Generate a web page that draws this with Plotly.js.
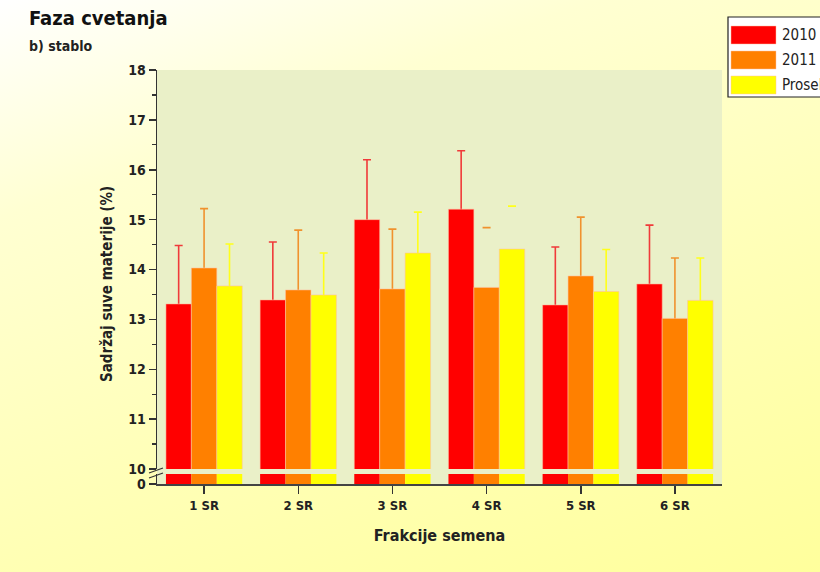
<!DOCTYPE html>
<html>
<head>
<meta charset="utf-8">
<script src="https://cdn.plot.ly/plotly-3.0.1.min.js"></script>
<style>
html,body{margin:0;padding:0;}
body{width:820px;height:572px;background:linear-gradient(160deg,#ffffff 0%,#ffffd2 25%,#ffffb4 65%,#ffff9c 100%);}
#chart{width:820px;height:572px;}
</style>
</head>
<body>
<div id="chart"></div>
<script>
const categories = ['1 SR','2 SR','3 SR','4 SR','5 SR','6 SR'];
const seriesNames = ['2010','2011','Prosek'];
const values2010 = [13.31, 13.39, 15.00, 15.21, 13.29, 13.71];
const values2011 = [14.03, 13.59, 13.61, 13.64, 13.87, 13.02];
const valuesProsek = [13.67, 13.49, 14.33, 14.41, 13.56, 13.38];
const err2010 = [1.17, 1.16, 1.20, 1.17, 1.16, 1.18];
const err2011 = [1.19, 1.20, 1.20, 1.20, 1.18, 1.21];
const errProsek = [0.84, 0.84, 0.82, 0.86, 0.84, 0.85];
// error bars drawn as cap only (no vertical stem) in the original
const capOnly2010 = [false, false, false, false, false, false];
const capOnly2011 = [false, false, false, true, false, false];
const capOnlyProsek = [false, false, false, true, false, false];
const yTicks = [10, 11, 12, 13, 14, 15, 16, 17, 18];

const colors = ['#ff0000', '#ff8000', '#ffff00'];
const errColors = ['#f03a3a', '#f0922e', '#ffff1a'];
const FONT = 'Liberation Sans Narrow, DejaVu Sans Condensed, Open Sans, sans-serif';

const allVals = [values2010, values2011, valuesProsek];
const allErr = [err2010, err2011, errProsek];
const allCap = [capOnly2010, capOnly2011, capOnlyProsek];

const traces = [];
// error-bar carriers first, so the real bars (drawn later) hide the lower end of each whisker
for (let s = 0; s < 3; s++) {
  const capY = allVals[s].map((v, i) => v + allErr[s][i]);
  traces.push({
    type: 'bar', x: categories, y: capY, xaxis: 'x', yaxis: 'y', offsetgroup: 'g' + s,
    marker: {color: 'rgba(0,0,0,0)', line: {width: 0}},
    error_y: {type: 'data', symmetric: false,
      array: capY.map(() => 0),
      arrayminus: allErr[s].map((e, i) => allCap[s][i] ? 0 : e + 0.15),
      visible: true, color: errColors[s], thickness: 1.6, width: 4},
    showlegend: false, hoverinfo: 'skip'
  });
}
for (let s = 0; s < 3; s++) {
  traces.push({
    type: 'bar', x: categories, y: allVals[s], name: seriesNames[s],
    xaxis: 'x', yaxis: 'y', offsetgroup: 'g' + s,
    marker: {color: colors[s], line: {color: 'rgba(255,190,160,0.7)', width: 0.8}},
    showlegend: false, hoverinfo: 'x+y'
  });
  traces.push({
    type: 'bar', x: categories, y: allVals[s], name: seriesNames[s],
    xaxis: 'x', yaxis: 'y2', offsetgroup: 'g' + s,
    marker: {color: colors[s], line: {width: 0}},
    showlegend: false, hoverinfo: 'skip'
  });
}

const H = 572, W = 820;
const mL = 157, mR = 98, mT = 70, mB = 88;
const plotH = H - mT - mB;
const upperBottom = (484 - 469) / plotH;
const lowerTop = (484 - 474) / plotH;

const shapes = [
  {type: 'rect', xref: 'paper', yref: 'paper', x0: 0, x1: 1, y0: 0, y1: 1, fillcolor: '#eaf0c8', line: {width: 0}, layer: 'below'},
  {type: 'line', xref: 'paper', yref: 'paper', xsizemode: 'pixel', ysizemode: 'pixel', xanchor: 0, yanchor: upperBottom, x0: -8, x1: 6, y0: -4, y1: 1, line: {color: '#333', width: 1.3}},
  {type: 'line', xref: 'paper', yref: 'paper', xsizemode: 'pixel', ysizemode: 'pixel', xanchor: 0, yanchor: lowerTop, x0: -8, x1: 6, y0: -4, y1: 1, line: {color: '#333', width: 1.3}}
];

// custom legend (large swatches, box running off the right edge as in the original)
const legX = 728, legTop = 17;
shapes.push({type: 'rect', xref: 'paper', yref: 'paper', xsizemode: 'pixel', ysizemode: 'pixel',
  xanchor: (legX - mL) / (W - mL - mR), yanchor: 1 + (mT - legTop) / plotH,
  x0: 0, x1: 120, y0: 0, y1: -80, fillcolor: '#ffffff', line: {color: '#222', width: 1.2}});
const annotations = [];
seriesNames.forEach((n, i) => {
  const top = 26 + i * 25;
  shapes.push({type: 'rect', xref: 'paper', yref: 'paper', xsizemode: 'pixel', ysizemode: 'pixel',
    xanchor: (731 - mL) / (W - mL - mR), yanchor: 1 + (mT - top) / plotH,
    x0: 0, x1: 45, y0: 0, y1: -18, fillcolor: colors[i], line: {color: 'rgba(255,190,160,0.6)', width: 0.8}});
  annotations.push({xref: 'paper', yref: 'paper', x: (780 - mL) / (W - mL - mR), y: 1 + (mT - top - 9) / plotH,
    xanchor: 'left', yanchor: 'middle', text: n, showarrow: false, font: {family: FONT, size: 15, color: '#222'}});
});
annotations.push({xref: 'paper', yref: 'paper', x: (27 - mL) / (W - mL - mR), y: 1 + (mT - 18) / plotH,
  xanchor: 'left', yanchor: 'middle', text: '<b>Faza cvetanja</b>', showarrow: false, font: {family: FONT, size: 20, color: '#111'}});
annotations.push({xref: 'paper', yref: 'paper', x: (27 - mL) / (W - mL - mR), y: 1 + (mT - 46) / plotH,
  xanchor: 'left', yanchor: 'middle', text: '<b>b) stablo</b>', showarrow: false, font: {family: FONT, size: 14, color: '#222'}});
annotations.push({xref: 'paper', yref: 'paper', x: (107 - mL) / (W - mL - mR), y: 1 - (284 - mT) / plotH,
  xanchor: 'center', yanchor: 'middle', textangle: -90, text: '<b>Sadržaj suve materije (%)</b>', showarrow: false, font: {family: FONT, size: 15, color: '#222'}});

const layout = {
  width: W, height: H,
  margin: {l: mL, r: mR, t: mT, b: mB, autoexpand: false},
  paper_bgcolor: 'rgba(0,0,0,0)', plot_bgcolor: '#eaf0c8',
  barmode: 'group', bargap: 0.19, bargroupgap: 0,
  showlegend: false,
  font: {family: FONT, color: '#222'},
  xaxis: {
    anchor: 'y2', type: 'category', range: [-0.5, 5.5],
    showline: true, linecolor: '#444', linewidth: 2,
    ticks: 'outside', ticklen: 8, tickwidth: 1.5, tickcolor: '#333',
    tickfont: {family: FONT, size: 13, color: '#222', weight: 700},
    showgrid: false, zeroline: false,
    title: {text: '<b>Frakcije semena</b>', font: {family: FONT, size: 16, color: '#222'}, standoff: 18}
  },
  yaxis: {
    domain: [upperBottom, 1], range: [10, 18], anchor: 'x',
    tickvals: yTicks, ticktext: yTicks.map(String),
    showline: true, linecolor: '#333', linewidth: 1.5,
    ticks: 'outside', ticklen: 7, tickwidth: 1.5, tickcolor: '#333',
    minor: {dtick: 0.5, ticks: 'outside', ticklen: 4, tickwidth: 1.2, tickcolor: '#333', showgrid: false},
    tickfont: {family: FONT, size: 14, color: '#222', weight: 700},
    showgrid: false, zeroline: false
  },
  yaxis2: {
    domain: [0, lowerTop], range: [0, 1], anchor: 'x',
    tickvals: [0], ticktext: ['0'],
    showline: true, linecolor: '#333', linewidth: 1.5,
    ticks: 'outside', ticklen: 7, tickwidth: 1.5, tickcolor: '#333',
    tickfont: {family: FONT, size: 14, color: '#222', weight: 700},
    showgrid: false, zeroline: false
  },
  shapes: shapes,
  annotations: annotations
};

Plotly.newPlot('chart', traces, layout, {displayModeBar: false, staticPlot: true});
</script>
</body>
</html>
